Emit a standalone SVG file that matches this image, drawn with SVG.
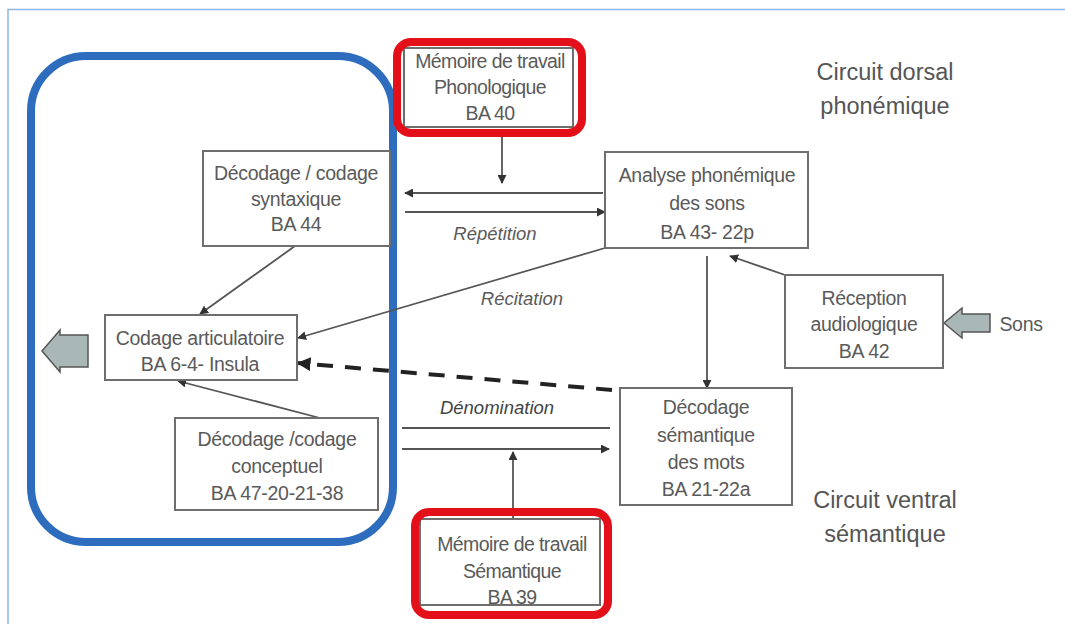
<svg xmlns="http://www.w3.org/2000/svg" width="1065" height="624" viewBox="0 0 1065 624">
<defs>
<style>
.t{font-family:"Liberation Sans",Arial,sans-serif;font-size:19.5px;fill:#5a5a5a;text-anchor:middle;letter-spacing:-0.3px}
.m{font-size:19.5px;letter-spacing:-0.6px}
.i{font-family:"Liberation Sans",Arial,sans-serif;font-size:18.5px;fill:#5a5a5a;font-style:italic;text-anchor:middle}
.c{font-family:"Liberation Sans",Arial,sans-serif;font-size:23.5px;fill:#555;text-anchor:middle}
.box{fill:#fff;stroke:#6e6e6e;stroke-width:2}
.red{fill:none;stroke:#e3101a;stroke-width:8}
.ln{stroke:#555;stroke-width:1.8;fill:none}
</style>
<marker id="ah" viewBox="0 0 10 10" refX="9" refY="5" markerWidth="9" markerHeight="9" markerUnits="userSpaceOnUse" orient="auto"><path d="M0,0 L10,5 L0,10 z" fill="#333"/></marker>
<marker id="ahb" viewBox="0 0 10 10" refX="9" refY="5" markerWidth="14" markerHeight="14" markerUnits="userSpaceOnUse" orient="auto"><path d="M0,0 L10,5 L0,10 z" fill="#222"/></marker>
</defs>
<rect width="1065" height="624" fill="#fff"/>
<path d="M8,624 V9.5 H1065" fill="none" stroke="#8fb6e6" stroke-width="1.5"/>

<g id="blue-group"><rect x="31" y="56" width="362" height="486" rx="55" fill="none" stroke="#2e6dbe" stroke-width="8"/></g>

<g id="connectors">
<line class="ln" x1="502" y1="133" x2="502" y2="183" marker-end="url(#ah)"/>
<line class="ln" x1="603" y1="193" x2="405" y2="193" marker-end="url(#ah)"/>
<line class="ln" x1="405" y1="212" x2="605" y2="212" marker-end="url(#ah)"/>
<line class="ln" x1="295" y1="246" x2="200" y2="314" marker-end="url(#ah)"/>
<line class="ln" x1="605" y1="248" x2="298" y2="338" marker-end="url(#ah)"/>
<line x1="612" y1="390" x2="298" y2="363" stroke="#222" stroke-width="4" stroke-dasharray="16,12" marker-end="url(#ahb)"/>
<line class="ln" x1="320" y1="418" x2="178" y2="381" marker-end="url(#ah)"/>
<line class="ln" x1="402" y1="428" x2="610" y2="428"/>
<line class="ln" x1="402" y1="449" x2="609" y2="449" marker-end="url(#ah)"/>
<line class="ln" x1="513" y1="520" x2="513" y2="452" marker-end="url(#ah)"/>
<line class="ln" x1="707" y1="256" x2="707" y2="388" marker-end="url(#ah)"/>
<line class="ln" x1="785" y1="275" x2="730" y2="256" marker-end="url(#ah)"/>
<path d="M88,335 H60 V330 L42,351 L60,372 V367 H88 Z" fill="#a9b7b7" stroke="#555" stroke-width="1.5"/>
<path d="M990,314 H962 V308 L944,323 L962,338 V332 H990 Z" fill="#a9b7b7" stroke="#555" stroke-width="1.5"/>
<text class="i" x="495" y="240">Répétition</text>
<text class="i" x="522" y="305">Récitation</text>
<text class="i" x="497" y="414" style="fill:#444">Dénomination</text>
</g>

<g id="memoire-phono">
<rect class="box" x="404" y="48" width="169" height="79"/>
<rect class="red" x="397" y="42" width="185" height="91" rx="14"/>
<text class="t m" x="490" y="68">Mémoire de travail</text>
<text class="t m" x="490" y="94">Phonologique</text>
<text class="t m" x="490" y="120">BA 40</text>
</g>

<g id="syntaxique">
<rect class="box" x="203" y="151" width="187" height="95"/>
<text class="t" x="296" y="180">Décodage / codage</text>
<text class="t" x="296" y="206">syntaxique</text>
<text class="t" x="296" y="231">BA 44</text>
</g>

<g id="analyse">
<rect class="box" x="605" y="152" width="203" height="96"/>
<text class="t" x="707" y="182">Analyse phonémique</text>
<text class="t" x="707" y="210">des sons</text>
<text class="t" x="707" y="239">BA 43- 22p</text>
</g>

<g id="articulatoire">
<rect class="box" x="105" y="315" width="192" height="65"/>
<text class="t" x="200" y="345">Codage articulatoire</text>
<text class="t" x="200" y="371">BA 6-4- Insula</text>
</g>

<g id="conceptuel">
<rect class="box" x="175" y="418" width="203" height="92"/>
<text class="t" x="277" y="446">Décodage /codage</text>
<text class="t" x="277" y="473">conceptuel</text>
<text class="t" x="277" y="500">BA 47-20-21-38</text>
</g>

<g id="semantique">
<rect class="box" x="620" y="388" width="172" height="117"/>
<text class="t" x="706" y="414">Décodage</text>
<text class="t" x="706" y="442">sémantique</text>
<text class="t" x="706" y="469">des mots</text>
<text class="t" x="706" y="496">BA 21-22a</text>
</g>

<g id="reception">
<rect class="box" x="785" y="275" width="158" height="93"/>
<text class="t" x="864" y="305">Réception</text>
<text class="t" x="864" y="331">audiologique</text>
<text class="t" x="864" y="358">BA 42</text>
</g>

<g id="sons"><text class="t" x="1021" y="331">Sons</text></g>

<g id="memoire-sem">
<rect class="box" x="420" y="519" width="180" height="86"/>
<rect class="red" x="415" y="512" width="193" height="103" rx="14"/>
<text class="t m" x="512" y="551">Mémoire de travail</text>
<text class="t m" x="512" y="578">Sémantique</text>
<text class="t m" x="512" y="604">BA 39</text>
</g>

<g id="labels">
<text class="c" x="885" y="80">Circuit dorsal</text>
<text class="c" x="885" y="114">phonémique</text>
<text class="c" x="885" y="508">Circuit ventral</text>
<text class="c" x="885" y="542">sémantique</text>
</g>
</svg>
